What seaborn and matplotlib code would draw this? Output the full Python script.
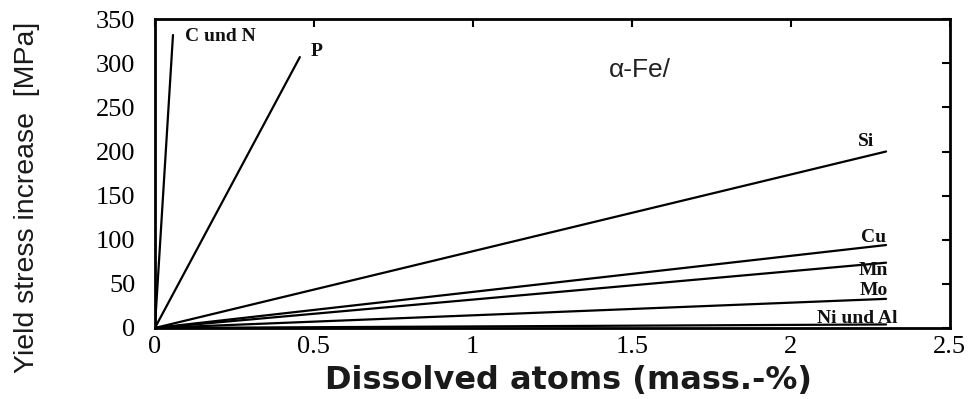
import matplotlib
matplotlib.use("Agg")
from matplotlib import pyplot as plt
import pandas as pd
import seaborn as sns

# end points of the straight lines (all start at the origin)
elements = ['C und N', 'P', 'Si', 'Cu', 'Mn', 'Mo', 'Ni und Al']
x_end = [0.057, 0.456, 2.30, 2.30, 2.30, 2.30, 2.30]
y_end = [332, 307, 200, 94, 74, 33, 4]
# label anchors (mass.-%, MPa)
label_x = [0.094, 0.49, 2.236, 2.26, 2.26, 2.26, 2.21]
label_y = [330, 313, 211, 103, 65, 42, 11]

x_ticks = [0, 0.5, 1, 1.5, 2, 2.5]
x_ticklabels = ['0', '0.5', '1', '1.5', '2', '2.5']
y_ticks = [0, 50, 100, 150, 200, 250, 300, 350]

rows = []
for el, xe, ye in zip(elements, x_end, y_end):
    rows.append({'element': el, 'x': 0.0, 'y': 0.0})
    rows.append({'element': el, 'x': xe, 'y': ye})
df = pd.DataFrame(rows)

sns.set_theme(style="white")
plt.rcParams['font.family'] = ['Liberation Serif', 'DejaVu Serif']

fig = plt.figure(figsize=(9.74, 3.99), dpi=100)
ax = fig.add_axes([0.159, 0.178, 0.816, 0.774])

sns.lineplot(data=df, x='x', y='y', hue='element', units='element',
             estimator=None, palette=['black'] * len(elements),
             linewidth=1.6, legend=False, ax=ax, sort=False)

for el, lx, ly in zip(elements, label_x, label_y):
    ha = 'left' if el in ('C und N', 'P') else 'center'
    ax.text(lx, ly, el, ha=ha, va='center', fontsize=14, fontweight='bold',
            family=['Liberation Serif', 'DejaVu Serif'], color='#111111')

ax.text(1.525, 292, '\u03b1-Fe/', ha='center', va='center', fontsize=19,
        family=['Liberation Sans', 'DejaVu Sans'], color='#222222')

ax.set_xlim(0, 2.5)
ax.set_ylim(0, 350)
ax.set_xticks(x_ticks)
ax.set_xticklabels(x_ticklabels)
ax.set_yticks(y_ticks)
ax.tick_params(direction='in', length=6, width=1.5, top=True, right=True,
               labelsize=19, colors='black')
ax.tick_params(axis='y', pad=14)
ax.tick_params(axis='x', pad=6)
for s in ax.spines.values():
    s.set_color('black')
    s.set_linewidth(2)

ax.set_xlabel('Dissolved atoms (mass.-%)', fontsize=23, fontweight='bold',
              family=['DejaVu Sans'], color='#1a1a1a')
ax.set_ylabel('Yield stress increase  [MPa]', fontsize=20.5,
              family=['Liberation Sans', 'DejaVu Sans'], color='#1a1a1a')
ax.yaxis.set_label_coords(-0.145, 0.424)
ax.xaxis.set_label_coords(0.52, -0.12)

fig.savefig('out.png', dpi=100)
